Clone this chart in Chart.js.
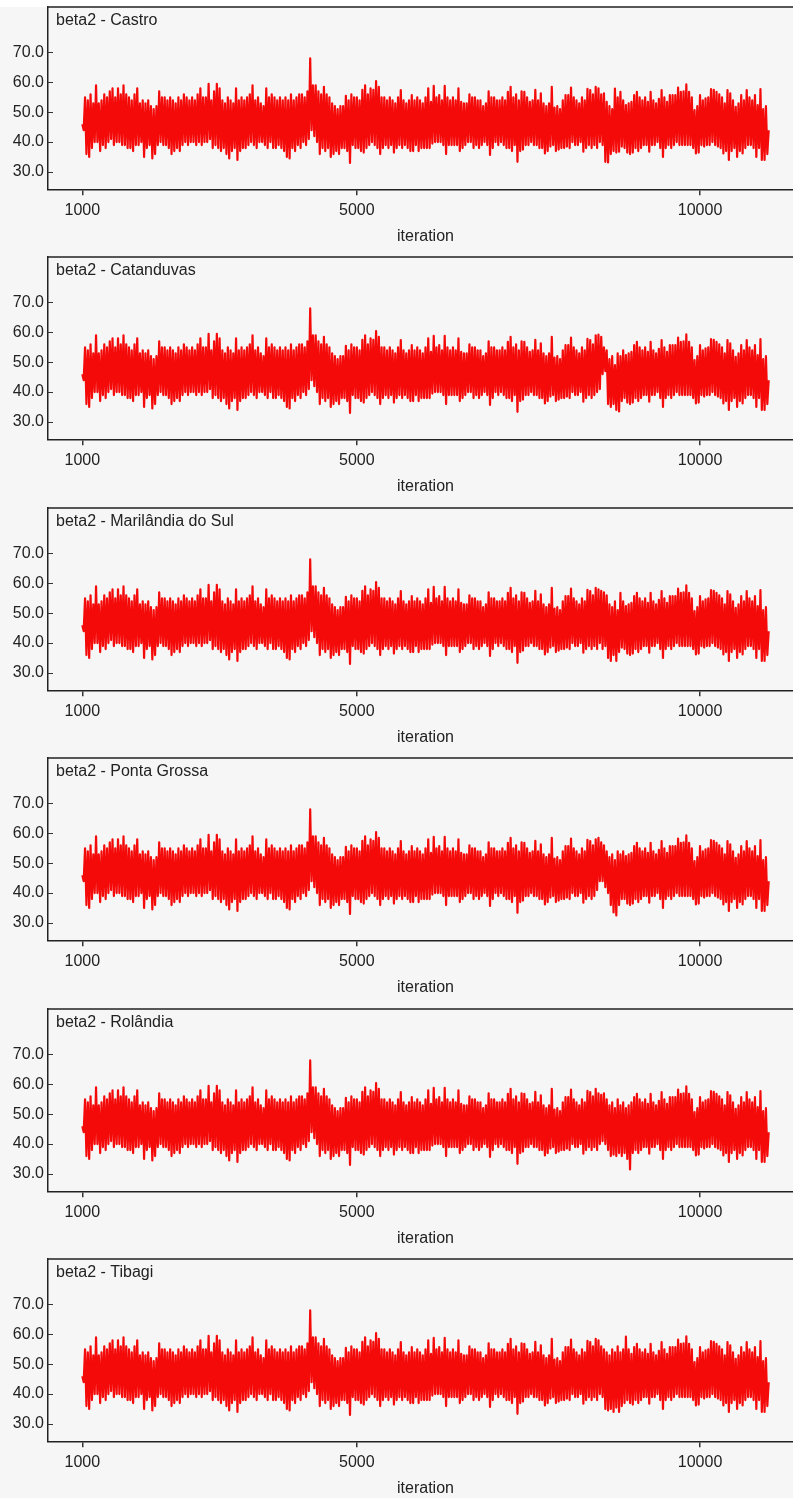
<!DOCTYPE html>
<html>
<head>
<meta charset="utf-8">
<script src="https://cdn.jsdelivr.net/npm/chart.js@4.4.1/dist/chart.umd.min.js"></script>
<style>
  html, body { margin: 0; padding: 0; background: #ffffff; }
  #page { position: relative; width: 793px; height: 1498px; overflow: hidden; }
  #bg { position: absolute; left: 0; top: 7px; width: 793px; height: 1491px; background: #f6f6f6; }
  .panel { position: absolute; left: 0; width: 810px; height: 250px; }
  canvas { display: block; }
</style>
</head>
<body>
<div id="page"><div id="bg"></div></div>
<script>
// ---------------- data ----------------
const panelNames = ['Castro', 'Catanduvas', 'Marilândia do Sul', 'Ponta Grossa', 'Rolândia', 'Tibagi'];
const titlePrefix = 'beta2 - ';
const xAxisTitle = 'iteration';
const iterStart = 1000;     // first stored iteration
const iterStep = 20;        // thinning between stored draws
const xTicks = [1000, 5000, 10000];
const yTicks = [30, 40, 50, 60, 70];

// trace (alternating upper / lower excursions)
const traceCastro = [
  46,44,55,36,54,35,56,38,53,40,
  59,40,53,37,54,39,56,38,55,40,
  57,41,58,39,55,40,58,40,56,39,
  59,39,56,38,55,38,54,37,56,39,
  58,39,53,40,54,35,53,38,54,39,
  52,34.5,51,36,52,39,57,40,55,39,
  55,39,54,38,55,36,54,37,53,38,
  55,37,54,39,56,40,55,39,54,40,
  55,40,54,39,56,40,58,39,55,40,
  55,40,59.5,41,54,38,57,39,59.5,38,
  58,37,54,38,53,36,55,34.5,54,37,
  53,38,58,34,54,37,55,38,54,38,
  55,39,56,40,59,39,54,38,55,40,
  53,40,52,39,58,38,55,40,56,38,
  55,38,54,39,55,38,54,37,55,35,
  54,34.5,56,38,54,37,55,39,56,38,
  56,40,55,39,57,41,68,44,59,42,
  59,40,57,36,56,38,58.5,37,56,38,
  55,35,53,36,52,37,51,36,52,38,
  52,38,55.5,37,54,33,56,39,55,38,
  55,38,54,37,57.5,36.5,59,38,56,39,
  58,40,57.5,39,60.4,38,58.5,36,55,38,
  55,39,54,38,55,39,54,36.5,53,38,
  55,39,57.4,38,54,39,53,38,54,37,
  55.7,37,54,39,55,37,54,38,53,38,
  55,38,58,38,53.5,39.5,58.8,40,55,40,
  55.7,40,54,39,58.8,36,55,39,54,39,
  55,39,54,39,58,37,53.5,38,53,39,
  53,40,56,40,55,38,55,39,54,38,
  54,39,52,40,53,39,57,35.7,55,38,
  55,40,54,39,54,40,55,39,54,38,
  56.8,38,58.5,37,55,39,56,33.4,54,37,
  57,37.5,56.8,39,55,39,53.5,40,54,39,
  57.5,39,54,38,56.3,38,53,36.2,52,37,
  53,38.5,58.5,39,51.5,37,52,37.5,51,38,
  54,38,55.7,38.5,55.7,38,58.2,40,55,39,
  54,39,53,40,55,36.8,54,38,57.8,39,
  57.4,38,56,39,58.5,38,58,40,56,39,
  56.3,33.4,53.5,33.2,52,36,51,37,57.9,36.5,
  55,36.8,56.8,38.5,54,38,52.4,36.5,53,36,
  53.5,36.5,55.7,38,56.8,37,55,38,54,39,
  55,39,53.5,36.8,56.8,39,54,39,53,40,
  54.5,38,57.4,35,55,38,53.5,39,55.7,38,
  55.7,39,55.7,40,58.2,39,56.8,39,57,39,
  59.3,39,56.8,39,55,38,50.7,36.2,52,36.5,
  55.7,39,54,38.5,54.6,39,55,39,57.7,40,
  57.5,39,56.8,38.5,56,38,55,36.2,53,37,
  57.4,34,56.3,37,54,38,51.8,35,53,37,
  55.7,36.2,54,38,57.4,39,55,39,54,38,
  55.7,35,52.4,38,57.7,34,51,34,52,36,
  44
];

// the other panels follow the same trace except in the stretch read separately below
const patchStarts = [null, 374, 378, 374, 376, 380];
const patchCatanduvas = [59,40,59.2,41,58.5,46,55,47,54,36,51,35,52,36,49,34,53,33.5,52,37];
const patchMarilandia = [57.5,38,57,39,56,35,53,34,52,36,54,34,51,37];
const patchPontaGrossa = [58,41,58.5,44,57,44,56,42,54,40,52,36,53,33.5,51,32.5,54,36,53,38];
const patchRolandia = [57,40,56.5,41,57,40,55,38,53,36,54,36.5,52,36,55,37,53,36,54,37,52,35,53,31.5,54,37];
const patchTibagi = [55,35,54,34.5,53,35,55,34,54,35.5,56,34,54,36,55,37,59.2,38,55,37];
const patchValues = [null, patchCatanduvas, patchMarilandia, patchPontaGrossa, patchRolandia, patchTibagi];

// ---------------- drawing ----------------
const FONT = "'Liberation Sans', Arial, sans-serif";
const TEXT = '#222222';
const LINE_RED = '#f50a0a';
const panelTops = [0, 250, 501, 751, 1002, 1252];

const frameTitle = {
  id: 'frameTitle',
  afterDraw(chart, args, opts) {
    const {ctx, chartArea: a} = chart;
    const ys = chart.scales.y;
    ctx.save();
    ctx.strokeStyle = '#222222';
    ctx.lineWidth = 1.5;
    ctx.beginPath();
    ctx.moveTo(a.left, a.top);
    ctx.lineTo(a.right, a.top);
    ctx.lineTo(a.right, a.bottom);
    ctx.stroke();
    // inward y ticks
    ctx.strokeStyle = '#333333';
    ctx.lineWidth = 1.2;
    ctx.beginPath();
    yTicks.forEach(v => {
      const py = Math.round(ys.getPixelForValue(v)) + 0.5;
      ctx.moveTo(a.left, py);
      ctx.lineTo(a.left + 5, py);
    });
    ctx.stroke();
    ctx.fillStyle = TEXT;
    ctx.font = '16px ' + FONT;
    ctx.textAlign = 'left';
    ctx.textBaseline = 'middle';
    ctx.fillText(opts.text, a.left + 8, a.top + 14);
    ctx.restore();
  }
};

const page = document.getElementById('page');

panelNames.forEach((name, k) => {
  const series = traceCastro.slice();
  if (patchValues[k]) {
    patchValues[k].forEach((v, j) => { series[patchStarts[k] + j] = v; });
  }
  const points = series.map((v, i) => ({x: iterStart + i * iterStep, y: v}));

  const div = document.createElement('div');
  div.className = 'panel';
  div.style.top = panelTops[k] + 'px';
  const cv = document.createElement('canvas');
  cv.width = 810; cv.height = 250;
  cv.style.width = '810px'; cv.style.height = '250px';
  div.appendChild(cv);
  page.appendChild(div);

  new Chart(cv, {
    type: 'line',
    data: {
      datasets: [{
        data: points,
        borderColor: LINE_RED,
        borderWidth: 2.2,
        borderJoinStyle: 'round',
        borderCapStyle: 'butt',
        pointRadius: 0,
        tension: 0,
        fill: false
      }]
    },
    options: {
      responsive: false,
      animation: false,
      devicePixelRatio: 1,
      layout: { padding: { left: 0, top: 7, right: 7, bottom: 0 } },
      plugins: {
        legend: { display: false },
        tooltip: { enabled: false },
        frameTitle: { text: titlePrefix + name }
      },
      scales: {
        x: {
          type: 'linear',
          min: 500,
          max: 11500,
          afterBuildTicks: s => { s.ticks = xTicks.map(v => ({value: v})); },
          afterFit: s => { s.height = 60.7; s.paddingLeft = 0; s.paddingRight = 0; },
          grid: { display: true, drawOnChartArea: false, drawTicks: true, tickLength: 6, tickColor: '#333333', lineWidth: 1.5 },
          border: { display: true, color: '#222222', width: 1.5 },
          ticks: { color: TEXT, font: { family: FONT, size: 16 }, padding: 6, maxRotation: 0, autoSkip: false,
                   callback: v => String(v) },
          title: { display: true, text: xAxisTitle, color: TEXT, font: { family: FONT, size: 16 }, padding: { top: 0, bottom: 4 } }
        },
        y: {
          type: 'linear',
          min: 24.2,
          max: 85.2,
          afterBuildTicks: s => { s.ticks = yTicks.map(v => ({value: v})); },
          afterFit: s => { s.width = 48; s.paddingTop = 0; s.paddingBottom = 0; },
          grid: { display: false, drawOnChartArea: false, drawTicks: false },
          border: { display: true, color: '#222222', width: 1.5 },
          ticks: { color: TEXT, font: { family: FONT, size: 16 }, padding: 4, autoSkip: false,
                   callback: v => Number(v).toFixed(1) }
        }
      }
    },
    plugins: [frameTitle]
  });
});
</script>
</body>
</html>
